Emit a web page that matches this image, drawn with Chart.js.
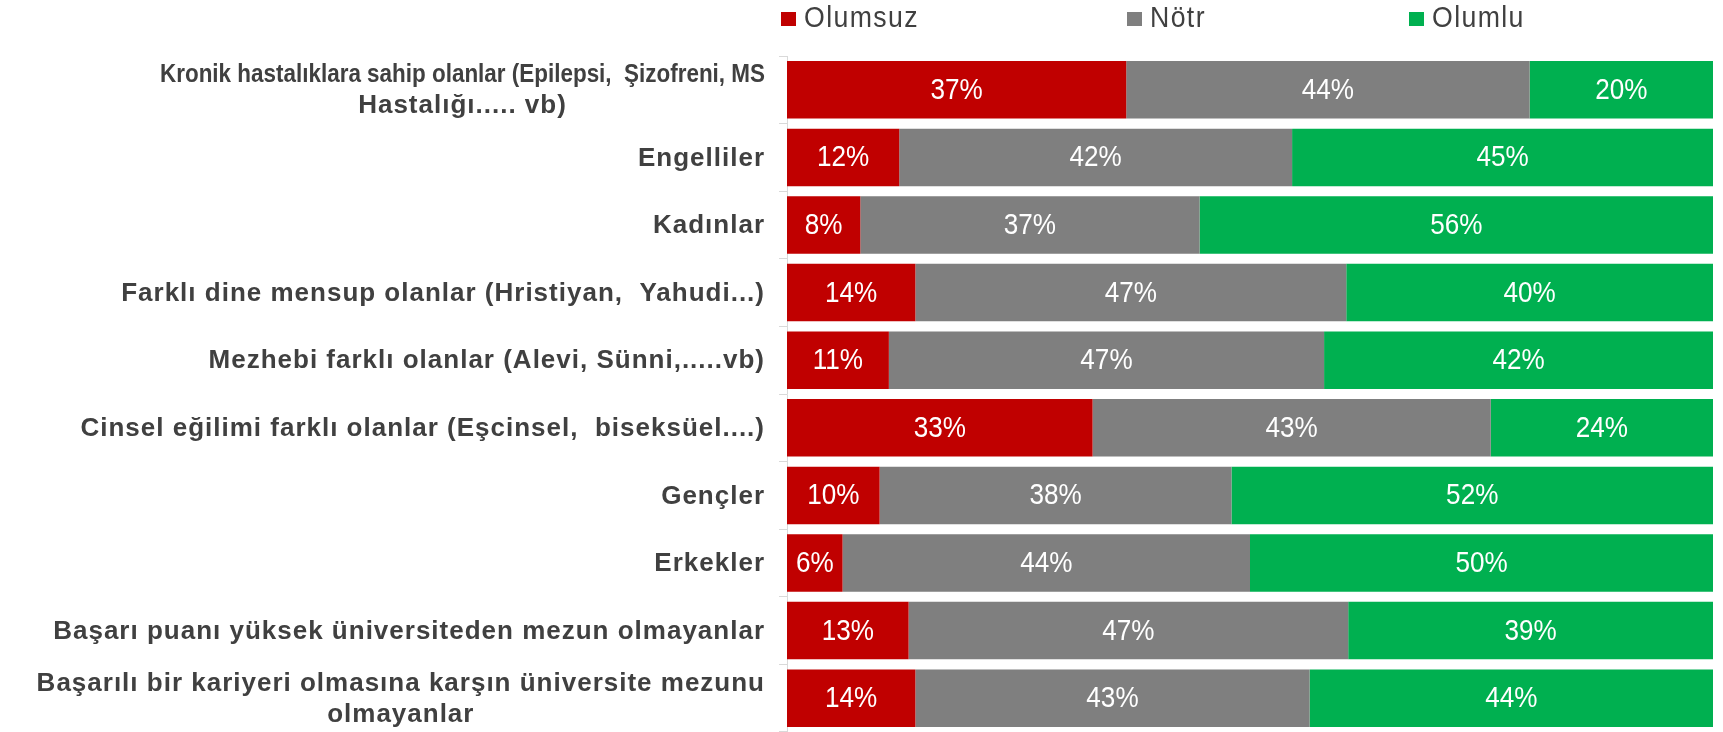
<!DOCTYPE html>
<html>
<head>
<meta charset="utf-8">
<script src="https://cdn.jsdelivr.net/npm/chart.js@4"></script>
<style>
  body { margin: 0; background: #fff; }
  #wrap { width: 1723px; height: 732px; }
</style>
</head>
<body>
<div id="wrap"><canvas id="grafik" width="1723" height="732"></canvas></div>
<script>
// data
const kategoriler = [
    ['Kronik hastalıklara sahip olanlar (Epilepsi,  Şizofreni, MS', 'Hastalığı..... vb)'],
    ['Engelliler'],
    ['Kadınlar'],
    ['Farklı dine mensup olanlar (Hristiyan,  Yahudi...)'],
    ['Mezhebi farklı olanlar (Alevi, Sünni,.....vb)'],
    ['Cinsel eğilimi farklı olanlar (Eşcinsel,  biseksüel....)'],
    ['Gençler'],
    ['Erkekler'],
    ['Başarı puanı yüksek üniversiteden mezun olmayanlar'],
    ['Başarılı bir kariyeri olmasına karşın üniversite mezunu', 'olmayanlar']
];
const olumsuz = [37, 12, 8, 14, 11, 33, 10, 6, 13, 14];
const notr    = [44, 42, 37, 47, 47, 43, 38, 44, 47, 43];
const olumlu  = [20, 45, 56, 40, 42, 24, 52, 50, 39, 44];
const seriAdlari = ['Olumsuz', 'Nötr', 'Olumlu'];
const renkler = ['#C00000', '#7F7F7F', '#00B050'];

const yaziRengi = '#404040';
const yazi = '"Liberation Sans", Arial, sans-serif';

// each row is drawn as a share of its own total (printed numbers round to 99-101)
const toplam = olumsuz.map((v, i) => v + notr[i] + olumlu[i]);
const pay = arr => arr.map((v, i) => v / toplam[i] * 100);
const hamDegerler = [olumsuz, notr, olumlu];

const ctx = document.getElementById('grafik').getContext('2d');

// narrow-looking text: draw scaled horizontally
function darYaz(ctx, metin, x, y, olcek) {
    ctx.save();
    ctx.translate(x, y);
    ctx.scale(olcek, 1);
    ctx.fillText(metin, 0, 0);
    ctx.restore();
}

// very long lines are set tighter, like in the original slide
const uzunSatir = 56;
const sikiGenislik = 605;

const etiketEklentisi = {
    id: 'kategoriEtiketleri',
    afterDraw(chart) {
        const { ctx } = chart;
        const y = chart.scales.y;
        const sag = chart.chartArea.left - 22;
        ctx.save();
        ctx.font = 'bold 26px ' + yazi;
        ctx.fillStyle = yaziRengi;
        ctx.textAlign = 'center';
        ctx.textBaseline = 'middle';
        const satirAraligi = 31;
        const aralik = s => s.length > uzunSatir ? '0px' : '1px';
        const olc = s => {
            ctx.letterSpacing = aralik(s);
            const w = ctx.measureText(s).width;
            return s.length > uzunSatir ? Math.min(w, sikiGenislik) : w;
        };
        kategoriler.forEach((satirlar, i) => {
            const orta = y.getPixelForValue(i) + 1;
            const genislik = Math.max(...satirlar.map(olc));
            const x = sag - genislik / 2;
            const ilkY = orta - (satirlar.length - 1) * satirAraligi / 2;
            satirlar.forEach((s, k) => {
                ctx.letterSpacing = aralik(s);
                const enFazla = s.length > uzunSatir ? sikiGenislik : sag - 4;
                ctx.fillText(s, x, ilkY + k * satirAraligi, enFazla);
            });
        });
        ctx.restore();
    }
};

const degerEklentisi = {
    id: 'degerEtiketleri',
    afterDatasetsDraw(chart) {
        const { ctx } = chart;
        ctx.save();
        ctx.font = '29px ' + yazi;
        ctx.fillStyle = '#ffffff';
        ctx.textAlign = 'center';
        ctx.textBaseline = 'middle';
        chart.data.datasets.forEach((ds, d) => {
            chart.getDatasetMeta(d).data.forEach((bar, i) => {
                const x = (bar.x + bar.base) / 2;
                darYaz(ctx, hamDegerler[d][i] + '%', x, bar.y + 1, 0.9);
            });
        });
        ctx.restore();
    }
};

const lejantEklentisi = {
    id: 'lejant',
    afterDraw(chart) {
        const { ctx } = chart;
        const sol = chart.chartArea.left;
        const konumlar = [-6, 340, 622];
        ctx.save();
        ctx.font = '29px ' + yazi;
        ctx.letterSpacing = '1.5px';
        ctx.textBaseline = 'middle';
        ctx.textAlign = 'left';
        seriAdlari.forEach((ad, i) => {
            const x = sol + konumlar[i];
            ctx.fillStyle = renkler[i];
            ctx.fillRect(x, 12, 15, 14);
            ctx.fillStyle = yaziRengi;
            darYaz(ctx, ad, x + 23, 19, 0.92);
        });
        ctx.restore();
    }
};

new Chart(ctx, {
    type: 'bar',
    data: {
        labels: kategoriler,
        datasets: seriAdlari.map((ad, i) => ({
            label: ad,
            data: pay(hamDegerler[i]),
            backgroundColor: renkler[i],
            borderWidth: 0,
            categoryPercentage: 0.85,
            barPercentage: 1
        }))
    },
    options: {
        indexAxis: 'y',
        responsive: false,
        animation: false,
        layout: { padding: { top: 56, right: 10, bottom: -3, left: 0 } },
        plugins: {
            legend: { display: false },
            tooltip: { enabled: false }
        },
        scales: {
            x: {
                stacked: true,
                min: 0,
                max: 100,
                display: false
            },
            y: {
                stacked: true,
                afterFit: (scale) => { scale.width = 787; },
                ticks: { display: false },
                grid: {
                    drawOnChartArea: false,
                    offset: true,
                    tickLength: 8,
                    color: '#d9d9d9'
                },
                border: { color: '#d9d9d9' }
            }
        }
    },
    plugins: [etiketEklentisi, degerEklentisi, lejantEklentisi]
});
</script>
</body>
</html>
